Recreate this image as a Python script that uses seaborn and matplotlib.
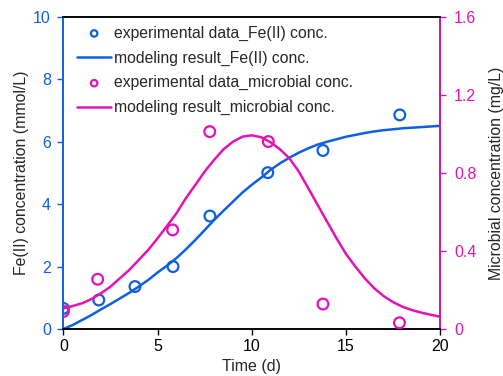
import numpy as np
import pandas as pd
import matplotlib
matplotlib.use('Agg')
import matplotlib.pyplot as plt
import seaborn as sns

t_exp_fe = [0, 1.88, 3.8, 5.82, 7.78, 10.85, 13.78, 17.86]
fe_exp = [0.66, 0.93, 1.36, 2.0, 3.62, 5.01, 5.72, 6.86]

t_exp_mic = [0, 1.82, 5.8, 7.77, 10.88, 13.78, 17.84]
mic_exp = [0.09, 0.255, 0.508, 1.012, 0.961, 0.128, 0.032]

# model curves (every half day)
t_model = [0, 0.5, 1, 1.5, 2, 2.5, 3, 3.5, 4, 4.5, 5, 5.5, 6, 6.5, 7, 7.5,
           8, 8.5, 9, 9.5, 10, 10.5, 11, 11.5, 12, 12.5, 13, 13.5, 14, 14.5,
           15, 15.5, 16, 16.5, 17, 17.5, 18, 18.5, 19, 19.5, 20]
fe_model = [0, 0.13, 0.29, 0.45, 0.63, 0.8, 0.98, 1.16, 1.36, 1.57, 1.81,
            2.03, 2.27, 2.55, 2.85, 3.17, 3.49, 3.79, 4.08, 4.37, 4.62,
            4.85, 5.1, 5.31, 5.49, 5.65, 5.79, 5.91, 6.0, 6.08, 6.16,
            6.22, 6.28, 6.33, 6.37, 6.4, 6.43, 6.45, 6.47, 6.49, 6.51]
mic_model = [0.106, 0.118, 0.132, 0.154, 0.183, 0.217, 0.26, 0.303, 0.354,
             0.405, 0.465, 0.528, 0.593, 0.67, 0.738, 0.807, 0.867, 0.921,
             0.96, 0.986, 0.993, 0.983, 0.957, 0.921, 0.875, 0.807, 0.722,
             0.636, 0.55, 0.465, 0.385, 0.32, 0.26, 0.209, 0.169, 0.138,
             0.114, 0.097, 0.084, 0.073, 0.063]

blue = '#0F5FDF'
pink = '#E512B8'

sns.set_style('ticks')
plt.rcParams['font.family'] = ['Liberation Sans', 'DejaVu Sans']
plt.rcParams['font.size'] = 11

fig = plt.figure(figsize=(5.03, 3.76), dpi=100)
ax = fig.add_axes([0.126, 0.125, 0.749, 0.83])
ax2 = ax.twinx()

sns.scatterplot(x=t_exp_fe, y=fe_exp, ax=ax, s=60, facecolor='none',
                edgecolor=blue, linewidth=1.6, marker='o',
                label='experimental data_Fe(II) conc.', zorder=3)
sns.lineplot(x=t_model, y=fe_model, ax=ax, color=blue, linewidth=1.8,
             label='modeling result_Fe(II) conc.')
sns.scatterplot(x=t_exp_mic, y=mic_exp, ax=ax2, s=60, facecolor='none',
                edgecolor=pink, linewidth=1.6, marker='o',
                label='experimental data_microbial conc.', zorder=3)
sns.lineplot(x=t_model, y=mic_model, ax=ax2, color=pink, linewidth=1.8,
             label='modeling result_microbial conc.')

ax.set_xlim(0, 20)
ax.set_ylim(0, 10)
ax2.set_ylim(0, 1.6)
ax.set_xticks([0, 5, 10, 15, 20])
ax.set_yticks([0, 2, 4, 6, 8, 10])
ax2.set_yticks([0, 0.4, 0.8, 1.2, 1.6])
ax2.set_yticklabels(['0', '0.4', '0.8', '1.2', '1.6'])

ax.set_xlabel('Time (d)', fontsize=11.5, labelpad=3)
ax.set_ylabel('Fe(II) concentration (mmol/L)', fontsize=11.4, labelpad=3)
ax2.set_ylabel('Microbial concentration (mg/L)', fontsize=11.4, labelpad=9)

ax.tick_params(axis='x', labelsize=11.5, length=4, width=1, colors='black')
ax.tick_params(axis='y', labelsize=11.5, length=4, width=1, colors=blue, pad=5)
ax2.tick_params(axis='y', labelsize=11.5, length=4, width=1, colors=pink, pad=6)

for a in (ax, ax2):
    for sp in a.spines.values():
        sp.set_linewidth(1.2)
        sp.set_visible(True)
ax2.spines['left'].set_color(blue)
ax2.spines['right'].set_color(pink)
ax2.spines['top'].set_color('black')
ax2.spines['bottom'].set_color('black')
ax.spines['left'].set_color(blue)

h1, l1 = ax.get_legend_handles_labels()
h2, l2 = ax2.get_legend_handles_labels()
ax.get_legend().remove()
ax2.get_legend().remove()
leg = ax2.legend(h1 + h2, l1 + l2, loc='upper left', frameon=False,
                 fontsize=11.3, markerscale=0.6, labelspacing=0.62,
                 handlelength=2.15, handletextpad=0.2,
                 bbox_to_anchor=(0.014, 1.0), borderaxespad=0.15)

fig.savefig('out.png', dpi=100)
